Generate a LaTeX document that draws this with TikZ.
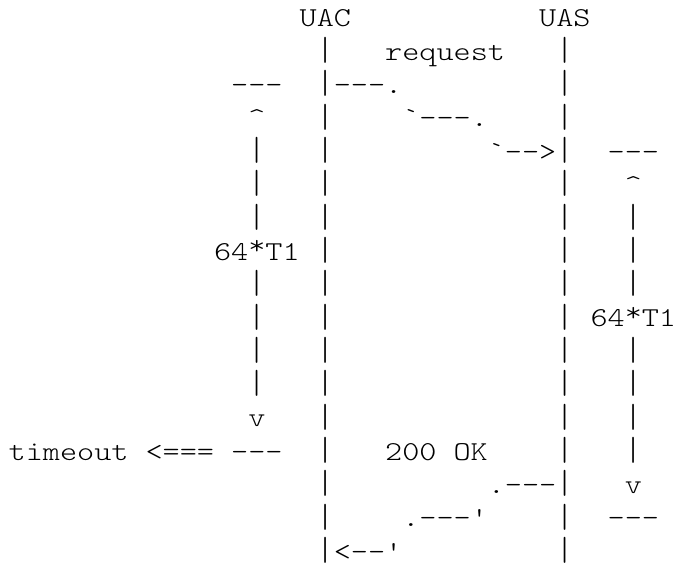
\documentclass[tikz,border=0pt]{standalone}
\usepackage{tikz}
\tikzset{
    ascii/.style={
        font=\ttfamily\fontseries{l}\fontsize{27.3}{27.3}\selectfont,
        inner sep=0pt,
        anchor=base west,
        xscale=1.194,
        transform shape
    },
    bar/.style={
        ascii,
        anchor=center,
        yscale=1.22
    }
}

\begin{document}
\begin{tikzpicture}[x=17.11pt, y=-33.33pt]
    \useasboundingbox (-0.497,-0.81) rectangle (38.95,16.14);

    % Participants
    \node[ascii] (uac) at (17,0) {UAC};
    \node[ascii] (uas) at (31,0) {UAS};

    % Life lines
    \foreach \r in {1,...,16} {
        \node[bar] (uacbar\r) at (18.5,\r-0.3) {|};
        \node[bar] (uasbar\r) at (32.5,\r-0.3) {|};
    }

    % Request going out
    \node[ascii] (req) at (22,1) {request};
    \node[ascii] (reqa) at (19,2) {---.};
    \node[ascii] (reqb) at (23,3) {`---.};
    \node[ascii] (reqc) at (28,4) {`-->};

    % 200 OK coming back
    \node[ascii] (ok) at (22,13) {200 OK};
    \node[ascii] (oka) at (28,14) {.---};
    \node[ascii] (okb) at (23,15) {.---'};
    \node[ascii, text depth=0pt] (okc) at (19,16) {<--'};

    % Timer at the UAC
    \node[ascii] (ltop) at (13,2) {---};
    \node[ascii] (lup) at (14,3) {\textasciicircum};
    \foreach \r in {4,5,6,8,9,10,11} \node[bar] (lbar\r) at (14.5,\r-0.3) {|};
    \node[ascii] (llbl) at (12,7) {64\raisebox{0.2em}{*}T1};
    \node[ascii] (ldown) at (14,12) {v};
    \node[ascii] (timeout) at (0,13) {timeout <=== ---};

    % Timer at the UAS
    \node[ascii] (rtop) at (35,4) {---};
    \node[ascii] (rup) at (36,5) {\textasciicircum};
    \foreach \r in {6,7,8,10,11,12,13} \node[bar] (rbar\r) at (36.5,\r-0.3) {|};
    \node[ascii] (rlbl) at (34,9) {64\raisebox{0.2em}{*}T1};
    \node[ascii] (rdown) at (36,14) {v};
    \node[ascii] (rbot) at (35,15) {---};
\end{tikzpicture}
\end{document}
